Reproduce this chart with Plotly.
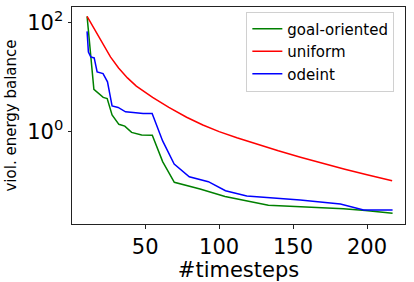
import plotly.graph_objects as go

# goal-oriented
goal_x = [10.7, 15.3, 21.6, 24.3, 27.6, 32.2, 36.2, 40.8, 47.6, 54.8, 61.8, 69.7, 87.1, 104, 133.3, 184.1, 198.9, 217.3]
goal_y = [128, 5.9, 4.2, 4.0, 2.0, 1.35, 1.25, 0.96, 0.86, 0.85, 0.28, 0.117, 0.088, 0.064, 0.0444, 0.0385, 0.0355, 0.0317]

# uniform
unif_x = [10.7, 14.4, 21, 26.5, 32, 38, 44, 55, 66, 78, 89, 100, 112, 125, 140, 155, 170, 185, 200, 217]
unif_y = [128, 85.1, 40.5, 23.2, 14.5, 9.57, 6.78, 4.19, 2.75, 1.82, 1.31, 0.99, 0.766, 0.589, 0.442, 0.337, 0.259, 0.203, 0.161, 0.125]

# odeint
ode_x = [10.7, 11.6, 13.2, 15.5, 17.5, 21.5, 24.5, 27.6, 31.7, 36.7, 41.9, 48.6, 54.7, 61.8, 69.6, 79.8, 92.7, 104.3, 118.7, 154.8, 182, 197.7, 217.3]
ode_y = [68, 28.6, 23.2, 22.2, 12.3, 11.5, 8.1, 2.94, 2.75, 2.29, 2.23, 2.14, 2.14, 0.67, 0.253, 0.148, 0.12, 0.082, 0.0656, 0.0555, 0.0469, 0.0364, 0.0364]

x_ticks = [50, 100, 150, 200]
y_ticks = [1, 100]
y_ticktext = ["10<sup>0</sup>", "10<sup>2</sup>"]

fig = go.Figure()
fig.add_trace(go.Scatter(x=goal_x, y=goal_y, mode="lines", name="goal-oriented",
                         line=dict(color="green", width=1.5)))
fig.add_trace(go.Scatter(x=unif_x, y=unif_y, mode="lines", name="uniform",
                         line=dict(color="red", width=1.5)))
fig.add_trace(go.Scatter(x=ode_x, y=ode_y, mode="lines", name="odeint",
                         line=dict(color="blue", width=1.5)))

fig.update_layout(
    width=414, height=282,
    margin=dict(l=72, r=9, t=7, b=58, autoexpand=False),
    paper_bgcolor="white", plot_bgcolor="white",
    font=dict(family="DejaVu Sans", color="black"),
    showlegend=True,
    legend=dict(x=0.968, y=0.979, xanchor="right", yanchor="top",
                bgcolor="white", bordercolor="#d0d0d0", borderwidth=1,
                font=dict(size=15), tracegroupgap=0),
)
fig.update_xaxes(range=[0.5, 225.7], tickvals=x_ticks, ticks="outside", ticklen=3.5,
                 tickcolor="#222", tickfont=dict(size=21), showgrid=False, zeroline=False,
                 showline=True, linecolor="#222", linewidth=1, mirror=True, automargin=False,
                 title=dict(text="#timesteps", font=dict(size=21), standoff=0))
fig.update_yaxes(type="log", range=[-1.696, 2.28], tickvals=y_ticks, ticktext=y_ticktext,
                 ticks="outside", ticklen=3.5, tickcolor="#222", tickfont=dict(size=21),
                 showgrid=False, zeroline=False, automargin=False,
                 showline=True, linecolor="#222", linewidth=1, mirror=True,
                 title=dict(text="viol. energy balance", font=dict(size=15), standoff=6))

fig.write_html("out.html", config={"displayModeBar": False},
               post_script="document.body.style.margin='0px';document.body.style.overflow='hidden';")
